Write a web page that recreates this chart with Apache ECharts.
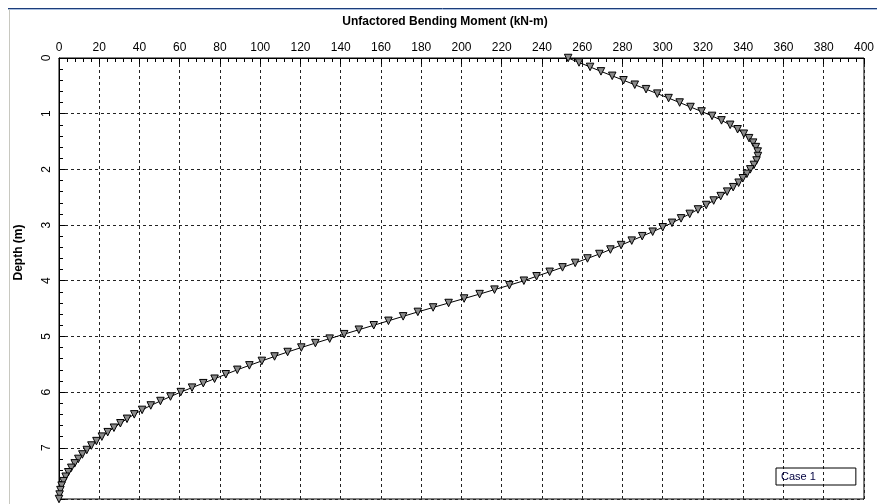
<!DOCTYPE html>
<html>
<head>
<meta charset="utf-8">
<script src="https://cdn.jsdelivr.net/npm/echarts@6/dist/echarts.min.js"></script>
<style>
  html, body { margin: 0; padding: 0; background: #fff; }
  #myChart { width: 877px; height: 504px; }
</style>
</head>
<body>
<div id="myChart"></div>
<script>
  // 深度 (m)，每 0.08 m 一个点
  var depths = [
    0, 0.08, 0.16, 0.24, 0.32, 0.40, 0.48, 0.56, 0.64, 0.72,
    0.80, 0.88, 0.96, 1.04, 1.12, 1.20, 1.28, 1.36, 1.44, 1.52,
    1.60, 1.68, 1.76, 1.84, 1.92, 2.00, 2.08, 2.16, 2.24, 2.32,
    2.40, 2.48, 2.56, 2.64, 2.72, 2.80, 2.88, 2.96, 3.04, 3.12,
    3.20, 3.28, 3.36, 3.44, 3.52, 3.60, 3.68, 3.76, 3.84, 3.92,
    4.00, 4.08, 4.16, 4.24, 4.32, 4.40, 4.48, 4.56, 4.64, 4.72,
    4.80, 4.88, 4.96, 5.04, 5.12, 5.20, 5.28, 5.36, 5.44, 5.52,
    5.60, 5.68, 5.76, 5.84, 5.92, 6.00, 6.08, 6.16, 6.24, 6.32,
    6.40, 6.48, 6.56, 6.64, 6.72, 6.80, 6.88, 6.96, 7.04, 7.12,
    7.20, 7.28, 7.36, 7.44, 7.52, 7.60, 7.68, 7.76, 7.84, 7.92
  ];
  // 弯矩 (kN-m)
  var moments = [
    253.0, 258.4, 263.9, 269.3, 274.9, 280.5, 286.1, 291.7, 297.3, 302.9,
    308.4, 313.8, 319.3, 324.5, 329.2, 333.5, 337.2, 340.3, 342.9, 344.9,
    346.3, 347.2, 347.3, 346.6, 345.3, 343.5, 341.8, 339.8, 337.7, 335.0,
    332.0, 328.8, 325.3, 321.6, 317.5, 313.4, 309.1, 304.6, 300.0, 295.0,
    289.8, 284.6, 279.3, 274.0, 268.5, 262.6, 256.5, 250.2, 243.8, 237.3,
    231.0, 223.8, 216.4, 209.0, 201.3, 193.6, 185.9, 178.3, 171.0, 163.7,
    156.4, 149.0, 141.7, 134.5, 127.4, 120.4, 113.6, 107.1, 100.8, 94.6,
    88.6, 82.9, 77.3, 71.7, 66.1, 60.5, 55.4, 50.4, 45.6, 41.3,
    37.4, 33.8, 30.5, 27.3, 24.2, 21.3, 18.6, 16.1, 13.8, 11.6,
    9.6, 7.8, 6.1, 4.6, 3.3, 2.2, 1.3, 0.7, 0.3, 0.0
  ];
  var seriesName = 'Case 1';

  var font = '"Liberation Sans", Arial, sans-serif';

  var myChart = echarts.init(document.getElementById('myChart'));

  var points = [];
  for (var i = 0; i < depths.length; i++) {
    points.push([moments[i], depths[i]]);
  }

  myChart.setOption({
    animation: false,
    backgroundColor: '#fff',
    title: {
      text: 'Unfactored Bending Moment (kN-m)',
      left: 440,
      textAlign: 'center',
      top: 11,
      textStyle: { fontFamily: font, fontSize: 12, fontWeight: 'bold', color: '#000' }
    },
    legend: {
      data: [seriesName],
      left: 776,
      top: 468,
      align: 'left',
      icon: 'rect',
      itemWidth: 0,
      itemHeight: 0,
      itemGap: 0,
      itemStyle: { color: 'rgba(0,0,0,0)', borderWidth: 0, opacity: 0 },
      lineStyle: { width: 0, opacity: 0 },
      borderColor: '#000',
      borderWidth: 1,
      borderRadius: 0,
      padding: [3, 40, 3, 0],
      textStyle: { fontFamily: font, fontSize: 11, color: '#000040' }
    },
    grid: {
      left: 59,
      top: 58,
      right: 2,
      bottom: 5,
      show: true,
      borderColor: '#000',
      borderWidth: 1
    },
    xAxis: {
      type: 'value',
      position: 'top',
      min: 0,
      max: 400,
      interval: 20,
      axisLine: { show: true, lineStyle: { color: '#000', width: 1 } },
      axisTick: { show: true, inside: true, length: 6, lineStyle: { color: '#000' } },
      minorTick: { show: true, splitNumber: 5, length: 4, lineStyle: { color: '#000' } },
      axisLabel: { margin: 4, fontFamily: font, fontSize: 12, color: '#000' },
      splitLine: { show: true, lineStyle: { color: '#222', type: [3, 3], width: 1 } }
    },
    yAxis: {
      type: 'value',
      inverse: true,
      min: 0,
      max: 7.92,
      interval: 1,
      name: 'Depth (m)',
      nameLocation: 'middle',
      nameGap: 34,
      nameRotate: 90,
      nameTextStyle: {
        fontFamily: font, fontSize: 12, fontWeight: 'bold', color: '#000',
        padding: [0, 0, 0, 52]
      },
      axisLine: { show: true, lineStyle: { color: '#000', width: 1 } },
      axisTick: { show: true, inside: true, length: 6, lineStyle: { color: '#000' } },
      minorTick: { show: true, splitNumber: 5, length: 4, lineStyle: { color: '#000' } },
      axisLabel: { rotate: 90, margin: 6, showMaxLabel: false, fontFamily: font, fontSize: 12, color: '#000' },
      splitLine: { show: true, lineStyle: { color: '#222', type: [3, 3], width: 1 } }
    },
    graphic: [
      { type: 'line', shape: { x1: 8, y1: 8.5, x2: 877, y2: 8.5 }, style: { stroke: '#1c3d7a', lineWidth: 1 } },
      { type: 'line', shape: { x1: 8, y1: 9.5, x2: 877, y2: 9.5 }, style: { stroke: '#a9bfe0', lineWidth: 1 } },
      { type: 'line', shape: { x1: 9.5, y1: 9, x2: 9.5, y2: 504 }, style: { stroke: '#c8c8c0', lineWidth: 1 } }
    ],
    series: [
      {
        name: seriesName,
        type: 'line',
        data: points,
        symbol: 'triangle',
        symbolRotate: 180,
        symbolSize: 7.5,
        showAllSymbol: true,
        itemStyle: { color: '#8a8a8a', borderColor: '#000', borderWidth: 1 },
        lineStyle: { color: '#000', width: 1 }
      }
    ]
  });
</script>
</body>
</html>
